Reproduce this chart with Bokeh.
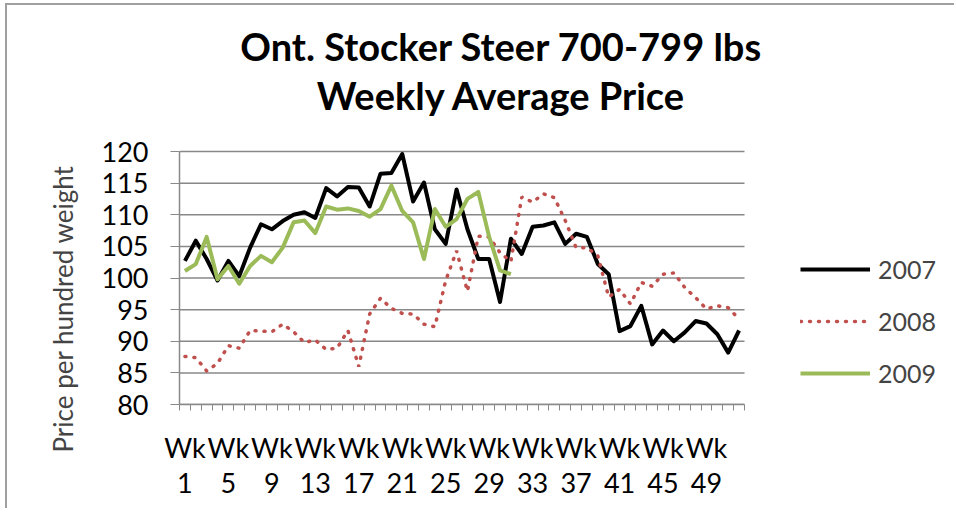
from bokeh.plotting import figure
from bokeh.models import Range1d, FixedTicker, Legend, LegendItem, Title, Label
from bokeh.embed import file_html
from bokeh.resources import INLINE

weeks = list(range(1, 53))
y2007 = [102.7, 105.9, 103.0, 99.6, 102.7, 100.3, 104.8, 108.5, 107.7, 109.0,
         110.0, 110.4, 109.5, 114.2, 112.9, 114.4, 114.3, 111.3, 116.5, 116.6,
         119.6, 112.1, 115.1, 107.7, 105.4, 114.0, 107.7, 103.0, 103.0, 96.2,
         106.2, 103.8, 108.1, 108.3, 108.8, 105.4, 107.0, 106.5, 102.2, 100.6,
         91.6, 92.4, 95.6, 89.5, 91.7, 90.0, 91.4, 93.2, 92.8, 91.1,
         88.2, 91.7]
y2008 = [87.6, 87.4, 85.3, 86.5, 89.3, 88.9, 91.7, 91.6, 91.5, 92.7,
         91.5, 89.8, 90.2, 88.7, 88.9, 91.7, 86.0, 94.3, 96.8, 95.2,
         94.4, 94.3, 92.7, 92.3, 99.6, 104.3, 97.9, 106.6, 106.5, 104.0,
         102.6, 112.8, 112.0, 113.3, 112.7, 109.1, 104.8, 104.8, 103.5, 97.0,
         98.2, 95.9, 99.3, 98.7, 100.6, 100.8, 98.5, 96.9, 95.1, 95.6,
         95.3, 93.5]
y2009 = [101.1, 102.2, 106.5, 99.8, 101.9, 99.1, 101.9, 103.5, 102.5, 104.8,
         108.8, 109.1, 107.1, 111.3, 110.8, 111.0, 110.6, 109.7, 110.9, 114.6,
         110.6, 108.8, 103.0, 110.9, 108.1, 109.3, 112.5, 113.6, 106.5, 101.2,
         100.6]
label_weeks = [1, 5, 9, 13, 17, 21, 25, 29, 33, 37, 41, 45, 49]
y_ticks = [80, 85, 90, 95, 100, 105, 110, 115, 120]
title_lines = ["Ont. Stocker Steer 700-799 lbs", "Weekly Average Price"]

FONT = "Lato"
GRID = "#888888"

x_lo = weeks[0] - 0.5
x_hi = weeks[-1] + 0.5
y_lo = y_ticks[0]
y_hi = y_ticks[-1]
# the plot frame also holds the legend area (right) and the title area (top)
x_view_end = x_lo + (x_hi - x_lo) * 777.0 / 565.0
y_view_end = y_hi + (y_hi - y_lo) * 146.0 / 253.0

p = figure(width=949, height=505, output_backend="svg", toolbar_location=None,
           x_range=Range1d(x_lo, x_view_end), y_range=Range1d(y_lo, y_view_end),
           min_border_left=172, min_border_right=0, min_border_top=0,
           min_border_bottom=106)
p.styles = {"margin-left": "5px", "margin-top": "3px",
            "border-left": "2px solid #A0A0A0",
            "border-top": "2px solid #A0A0A0",
            "border-right": "none", "border-bottom": "none"}
p.outline_line_color = None
p.xgrid.grid_line_color = None
p.ygrid.grid_line_color = None

# horizontal gridlines limited to the category span
p.segment(x0=[x_lo] * len(y_ticks), x1=[x_hi] * len(y_ticks), y0=y_ticks,
          y1=y_ticks, line_color=GRID, line_width=1.5)

p.xaxis.bounds = (x_lo, x_hi)
p.xaxis.ticker = FixedTicker(ticks=label_weeks,
                             minor_ticks=[w - 0.5 for w in weeks] + [x_hi])
p.xaxis.major_label_overrides = {w: "Wk\n%d" % w for w in label_weeks}
p.xaxis.major_tick_out = 0
p.xaxis.major_tick_in = 0
p.xaxis.minor_tick_out = 6
p.xaxis.minor_tick_in = 0
p.xaxis.minor_tick_line_color = GRID
p.xaxis.axis_line_color = GRID
p.xaxis.axis_line_width = 1.5
p.xaxis.major_label_text_font = FONT
p.xaxis.major_label_text_font_size = "27px"
p.xaxis.major_label_text_color = "black"
p.xaxis.major_label_text_line_height = 1.08
p.xaxis.major_label_standoff = 20

p.yaxis.bounds = (y_lo, y_hi)
p.yaxis.ticker = FixedTicker(ticks=y_ticks)
p.yaxis.major_tick_out = 9
p.yaxis.major_tick_in = 0
p.yaxis.minor_tick_line_color = None
p.yaxis.major_tick_line_color = GRID
p.yaxis.axis_line_color = GRID
p.yaxis.axis_line_width = 1.5
p.yaxis.major_label_text_font = FONT
p.yaxis.major_label_text_font_size = "27px"
p.yaxis.major_label_text_color = "black"
p.yaxis.major_label_standoff = 22

r07 = p.line(weeks, y2007, line_color="black", line_width=4, line_join="round")
r08 = p.line(weeks, y2008, line_color="#C0504D", line_width=3.5,
             line_dash="1 8", line_cap="round")
r09 = p.line(weeks[:len(y2009)], y2009, line_color="#9BBB59", line_width=4,
             line_join="round")

legend = Legend(items=[LegendItem(label="2007", renderers=[r07]),
                       LegendItem(label="2008", renderers=[r08]),
                       LegendItem(label="2009", renderers=[r09])],
                location=(621, 16), orientation="vertical",
                glyph_width=70, glyph_height=20, label_height=20,
                label_standoff=8, spacing=22, padding=0, margin=0,
                border_line_color=None, background_fill_alpha=0,
                label_text_font=FONT, label_text_font_size="25px")
p.add_layout(legend, "center")

for txt, ypos in zip(title_lines, [359, 310]):
    p.add_layout(Label(x=322, y=ypos, x_units="screen", y_units="screen",
                       text=txt, text_align="center",
                       text_baseline="alphabetic", text_font=FONT,
                       text_font_size="38px", text_font_style="bold",
                       text_color="black"))

ylab = Title(text="Price per hundred weight", align="left", offset=-48,
             text_font=FONT, text_font_size="26px", text_font_style="normal",
             standoff=40)
p.add_layout(ylab, "left")

open("out.html", "w").write(file_html(p, INLINE))
